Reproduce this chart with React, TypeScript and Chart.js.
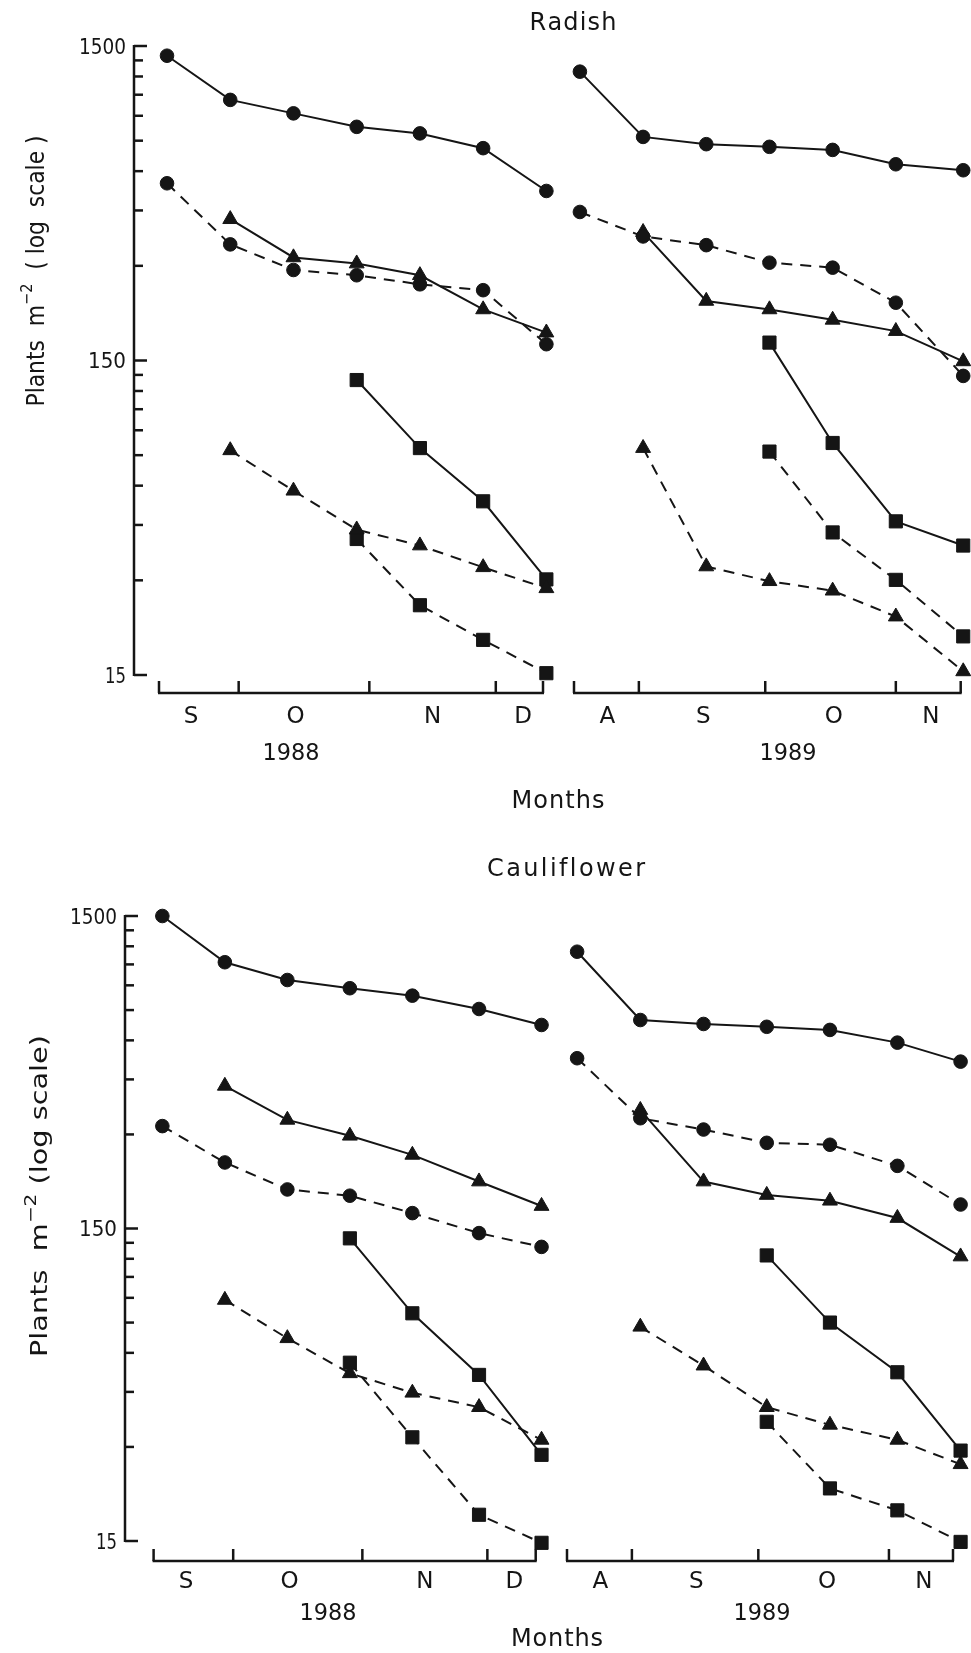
import React, { useEffect, useRef } from "react";
import { Chart, registerables } from "chart.js";

Chart.register(...registerables);

const W = 971;
const H = 1653;
const FONT = '"DejaVu Sans", "Liberation Sans", sans-serif';
const INK = "#151515";

// ---------- sampling dates (days after 1 Sep 1988 / 1 Aug 1989) ----------
const radishDays1988 = [13, 28, 43, 58, 73, 88, 103];
const cauliDays1988 = [13, 28, 43, 58, 73, 89, 104];
const radishDays1989 = [17, 32, 47, 62, 77, 92, 108];
const cauliDays1989 = [18, 33, 48, 63, 78, 94, 109];

// ---------- month axis (day offsets) ----------
const monthStarts1988 = [0, 30, 61, 91, 122];
const monthLabels1988 = ["S", "O", "N", "D"];
const monthLabelDays1988 = [18.7, 43.5, 76, 97.5];
const monthStarts1989 = [0, 31, 61, 92, 122];
const monthLabels1989 = ["A", "S", "O", "N"];
const monthLabelDays1989 = [23.5, 46.3, 77.3, 100.3];

// ---------- y axis (log) ----------
const yMajorTicks = [15, 150, 1500];
const yMajorLabels = ["15", "150", "1500"];
const yMinorTicks = [30, 45, 60, 75, 90, 105, 120, 135, 300, 450, 600, 750, 900, 1050, 1200, 1350];

// ---------- Radish 1988 ----------
const radish88SolidCircle = [1397, 1011, 916, 830, 791, 710, 519];
const radish88DashedCircle = [549, 351, 291, 280, 262, 251, 169];
const radish88SolidTriangle = [null, 422, 319, 305, 280, 218, 184];
const radish88DashedTriangle = [null, 77.7, 57.8, 43.5, 38.7, 33, 28.3];
const radish88SolidSquare = [null, null, null, 130, 79, 53.5, 30.2];
const radish88DashedSquare = [null, null, null, 40.6, 25, 19.4, 15.2];

// ---------- Radish 1989 ----------
const radish89SolidCircle = [1243, 771, 731, 717, 701, 631, 604];
const radish89DashedCircle = [445, 372, 349, 307, 296, 229, 134];
const radish89SolidTriangle = [null, 384, 232, 218, 202, 186, 149];
const radish89DashedTriangle = [null, 79, 33.2, 29.8, 27.8, 23, 15.4];
const radish89SolidSquare = [null, null, null, 171, 82, 46.2, 38.7];
const radish89DashedSquare = [null, null, null, 77, 42.6, 30.1, 19.9];

// ---------- Cauliflower 1988 ----------
const cauli88SolidCircle = [1500, 1067, 936, 881, 834, 756, 672];
const cauli88DashedCircle = [319, 244, 200, 191, 168, 145, 131];
const cauli88SolidTriangle = [null, 429, 334, 297, 258, 212, 177];
const cauli88DashedTriangle = [null, 88.6, 66.8, 51.6, 44.7, 40.2, 31.6];
const cauli88SolidSquare = [null, null, null, 139.5, 80.3, 51, 28.3];
const cauli88DashedSquare = [null, null, null, 55.8, 32.2, 18.2, 14.8];

// ---------- Cauliflower 1989 ----------
const cauli89SolidCircle = [1153, 697, 677, 663, 648, 590, 513];
const cauli89DashedCircle = [526, 338, 311, 282, 278, 238, 179];
const cauli89SolidTriangle = [null, 359, 212, 192, 184, 162, 122];
const cauli89DashedTriangle = [null, 72.7, 54.6, 40.2, 35.3, 31.6, 26.4];
const cauli89SolidSquare = [null, null, null, 123, 75, 52, 29.2];
const cauli89DashedSquare = [null, null, null, 36.1, 22.1, 18.8, 14.9];

const DASH = [11, 8];
const SERIES_STYLES: Record<string, { pointStyle: string; radius: number; dash: number[] }> = {
  solidCircle: { pointStyle: "circle", radius: 6.8, dash: [] },
  dashedCircle: { pointStyle: "circle", radius: 6.8, dash: DASH },
  solidTriangle: { pointStyle: "triangle", radius: 8.6, dash: [] },
  dashedTriangle: { pointStyle: "triangle", radius: 8.6, dash: DASH },
  solidSquare: { pointStyle: "rect", radius: 9.3, dash: [] },
  dashedSquare: { pointStyle: "rect", radius: 9.3, dash: DASH },
};

type TextPart = { t: string; s: number; sup?: boolean };
type CropText = {
  title: { text: string; x: number; y: number; w: number };
  months: { x: number; y: number; w: number };
  yTitle: { x: number; y: number; len: number; size: number; parts: TextPart[] };
};
type Panel = {
  id: string;
  days: number[];
  series: Record<string, (number | null)[]>;
  area: { left: number; right: number; top: number; bottom: number };
  xMin: number;
  xMax: number;
  monthStarts: number[];
  monthLabels: string[];
  monthLabelDays: number[];
  yAxisX: number | null;
  xAxisY: number;
  monthLabelY: number;
  year: string;
  yearX: number;
  yearY: number;
  crop: CropText | null;
};

const panels: Panel[] = [
  {
    id: "r88",
    days: radishDays1988,
    series: {
      solidCircle: radish88SolidCircle,
      dashedCircle: radish88DashedCircle,
      solidTriangle: radish88SolidTriangle,
      dashedTriangle: radish88DashedTriangle,
      solidSquare: radish88SolidSquare,
      dashedSquare: radish88DashedSquare,
    },
    area: { left: 159, right: 543, top: 46, bottom: 675 },
    xMin: 11.1,
    xMax: 102.2,
    monthStarts: monthStarts1988,
    monthLabels: monthLabels1988,
    monthLabelDays: monthLabelDays1988,
    yAxisX: 134,
    xAxisY: 693,
    monthLabelY: 715,
    year: "1988",
    yearX: 291,
    yearY: 752,
    crop: {
      title: { text: "Radish", x: 573, y: 21, w: 87 },
      months: { x: 558, y: 799, w: 93 },
      yTitle: {
        x: 35,
        y: 271,
        len: 271,
        size: 24,
        parts: [
          { t: "Plants  m", s: 24 },
          { t: "\u22122", s: 16, sup: true },
          { t: "  ( log  scale )", s: 24 },
        ],
      },
    },
  },
  {
    id: "r89",
    days: radishDays1989,
    series: {
      solidCircle: radish89SolidCircle,
      dashedCircle: radish89DashedCircle,
      solidTriangle: radish89SolidTriangle,
      dashedTriangle: radish89DashedTriangle,
      solidSquare: radish89SolidSquare,
      dashedSquare: radish89DashedSquare,
    },
    area: { left: 574, right: 962, top: 46, bottom: 675 },
    xMin: 15.6,
    xMax: 107.4,
    monthStarts: monthStarts1989,
    monthLabels: monthLabels1989,
    monthLabelDays: monthLabelDays1989,
    yAxisX: null,
    xAxisY: 693,
    monthLabelY: 715,
    year: "1989",
    yearX: 788,
    yearY: 752,
    crop: null,
  },
  {
    id: "c88",
    days: cauliDays1988,
    series: {
      solidCircle: cauli88SolidCircle,
      dashedCircle: cauli88DashedCircle,
      solidTriangle: cauli88SolidTriangle,
      dashedTriangle: cauli88DashedTriangle,
      solidSquare: cauli88SolidSquare,
      dashedSquare: cauli88DashedSquare,
    },
    area: { left: 153.6, right: 535.7, top: 916, bottom: 1541 },
    xMin: 10.9,
    xMax: 102.6,
    monthStarts: monthStarts1988,
    monthLabels: monthLabels1988,
    monthLabelDays: monthLabelDays1988,
    yAxisX: 125,
    xAxisY: 1561,
    monthLabelY: 1580,
    year: "1988",
    yearX: 328,
    yearY: 1612,
    crop: {
      title: { text: "Cauliflower", x: 566, y: 867, w: 158 },
      months: { x: 557, y: 1637, w: 92 },
      yTitle: {
        x: 39,
        y: 1196,
        len: 322,
        size: 23,
        parts: [
          { t: "Plants  m", s: 23 },
          { t: "\u22122", s: 16, sup: true },
          { t: " (log scale)", s: 23 },
        ],
      },
    },
  },
  {
    id: "c89",
    days: cauliDays1989,
    series: {
      solidCircle: cauli89SolidCircle,
      dashedCircle: cauli89DashedCircle,
      solidTriangle: cauli89SolidTriangle,
      dashedTriangle: cauli89DashedTriangle,
      solidSquare: cauli89SolidSquare,
      dashedSquare: cauli89DashedSquare,
    },
    area: { left: 567, right: 953, top: 916, bottom: 1541 },
    xMin: 15.6,
    xMax: 107.2,
    monthStarts: monthStarts1989,
    monthLabels: monthLabels1989,
    monthLabelDays: monthLabelDays1989,
    yAxisX: null,
    xAxisY: 1561,
    monthLabelY: 1580,
    year: "1989",
    yearX: 762,
    yearY: 1612,
    crop: null,
  },
];

const Y_LABEL_WIDTHS = [21, 38, 47];

function seg(ctx: CanvasRenderingContext2D, x1: number, y1: number, x2: number, y2: number) {
  ctx.beginPath();
  ctx.moveTo(x1, y1);
  ctx.lineTo(x2, y2);
  ctx.stroke();
}

function drawFitText(
  ctx: CanvasRenderingContext2D,
  text: string,
  cx: number,
  cy: number,
  size: number,
  targetW: number | null,
  align: "left" | "center" | "right"
) {
  ctx.save();
  ctx.font = `${size}px ${FONT}`;
  ctx.textBaseline = "alphabetic";
  ctx.textAlign = "left";
  const chars = Array.from(text);
  const ws = chars.map((c) => ctx.measureText(c).width);
  const natural = ws.reduce((a, b) => a + b, 0);
  let sx = 1;
  let sp = 0;
  if (targetW) {
    if (targetW >= natural) sp = chars.length > 1 ? (targetW - natural) / (chars.length - 1) : 0;
    else sx = targetW / natural;
  }
  const total = natural * sx + sp * (chars.length - 1);
  let x = align === "center" ? cx - total / 2 : align === "right" ? cx - total : cx;
  const baseY = cy + size * 0.36;
  chars.forEach((c, i) => {
    ctx.save();
    ctx.translate(x, baseY);
    ctx.scale(sx, 1);
    ctx.fillText(c, 0, 0);
    ctx.restore();
    x += ws[i] * sx + sp;
  });
  ctx.restore();
}

function drawYTitle(ctx: CanvasRenderingContext2D, yt: CropText["yTitle"]) {
  ctx.save();
  ctx.translate(yt.x, yt.y);
  ctx.rotate(-Math.PI / 2);
  ctx.textBaseline = "alphabetic";
  ctx.textAlign = "left";
  const widths = yt.parts.map((p) => {
    ctx.font = `${p.s}px ${FONT}`;
    return ctx.measureText(p.t).width;
  });
  const natural = widths.reduce((a, b) => a + b, 0);
  const sx = yt.len / natural;
  ctx.scale(sx, 1);
  let x = -natural / 2;
  const base = yt.size * 0.36;
  yt.parts.forEach((p, i) => {
    ctx.font = `${p.s}px ${FONT}`;
    ctx.fillText(p.t, x, p.sup ? base - yt.size * 0.5 : base);
    x += widths[i];
  });
  ctx.restore();
}

function makePlugin(p: Panel) {
  return {
    id: "panelAxes_" + p.id,
    beforeDatasetsDraw(chart: any) {
      const ctx: CanvasRenderingContext2D = chart.ctx;
      const xs = chart.scales.x;
      const ys = chart.scales.y;
      const { left, right } = chart.chartArea;
      ctx.save();
      ctx.strokeStyle = INK;
      ctx.fillStyle = INK;
      ctx.lineWidth = 2.5;
      ctx.lineCap = "butt";
      if (p.yAxisX !== null) {
        const ax = p.yAxisX;
        const yTop = ys.getPixelForValue(1500);
        const yBot = ys.getPixelForValue(15);
        seg(ctx, ax, yTop - 1, ax, yBot + 1);
        yMajorTicks.forEach((v, i) => {
          const py = ys.getPixelForValue(v);
          seg(ctx, ax, py, ax + 13, py);
          drawFitText(ctx, yMajorLabels[i], ax - 8, py, 22, Y_LABEL_WIDTHS[i], "right");
        });
        yMinorTicks.forEach((v) => {
          const py = ys.getPixelForValue(v);
          seg(ctx, ax, py, ax + 9, py);
        });
      }
      // x axis
      seg(ctx, left - 1, p.xAxisY, right + 1, p.xAxisY);
      const tickPx = [left, right].concat(
        p.monthStarts.filter((d) => d > xs.min && d < xs.max).map((d) => xs.getPixelForValue(d))
      );
      tickPx.forEach((px) => seg(ctx, px, p.xAxisY, px, p.xAxisY - 12));
      p.monthLabels.forEach((lab, i) => {
        drawFitText(ctx, lab, xs.getPixelForValue(p.monthLabelDays[i]), p.monthLabelY, 23, null, "center");
      });
      drawFitText(ctx, p.year, p.yearX, p.yearY, 23, 57, "center");
      ctx.restore();
    },
    afterDraw(chart: any) {
      if (!p.crop) return;
      const ctx: CanvasRenderingContext2D = chart.ctx;
      ctx.save();
      ctx.fillStyle = INK;
      const c = p.crop;
      drawFitText(ctx, c.title.text, c.title.x, c.title.y, 24, c.title.w, "center");
      drawFitText(ctx, "Months", c.months.x, c.months.y, 24, c.months.w, "center");
      drawYTitle(ctx, c.yTitle);
      ctx.restore();
    },
  };
}

function buildDatasets(p: Panel) {
  return Object.keys(SERIES_STYLES).map((key) => {
    const st = SERIES_STYLES[key];
    const vals = p.series[key];
    const data = p.days
      .map((d, i) => (vals[i] == null ? null : { x: d, y: vals[i] as number }))
      .filter((v) => v !== null);
    return {
      label: key,
      data,
      borderColor: INK,
      borderWidth: 2,
      borderDash: st.dash,
      fill: false,
      tension: 0,
      clip: false,
      pointStyle: st.pointStyle,
      pointRadius: st.radius,
      pointBackgroundColor: INK,
      pointBorderColor: INK,
      pointBorderWidth: 1,
    };
  });
}

function PanelChart({ panel }: { panel: Panel }) {
  const ref = useRef<HTMLCanvasElement | null>(null);
  useEffect(() => {
    if (!ref.current) return;
    const chart = new Chart(ref.current, {
      type: "line",
      data: { datasets: buildDatasets(panel) as any },
      options: {
        responsive: false,
        maintainAspectRatio: false,
        animation: false,
        devicePixelRatio: 1,
        events: [],
        layout: {
          padding: {
            left: panel.area.left,
            right: W - panel.area.right,
            top: panel.area.top,
            bottom: H - panel.area.bottom,
          },
        },
        scales: {
          x: { type: "linear", min: panel.xMin, max: panel.xMax, display: false },
          y: { type: "logarithmic", min: 15, max: 1500, display: false },
        },
        plugins: {
          legend: { display: false },
          tooltip: { enabled: false },
          title: { display: false },
        },
      } as any,
      plugins: [makePlugin(panel)],
    });
    return () => chart.destroy();
  }, [panel]);
  return (
    <canvas
      ref={ref}
      width={W}
      height={H}
      style={{ position: "absolute", left: 0, top: 0, width: W, height: H }}
    />
  );
}

export default function App() {
  return (
    <div
      style={{
        position: "absolute",
        left: 0,
        top: 0,
        width: W,
        height: H,
        background: "#ffffff",
        overflow: "hidden",
      }}
    >
      {panels.map((p) => (
        <PanelChart key={p.id} panel={p} />
      ))}
    </div>
  );
}
